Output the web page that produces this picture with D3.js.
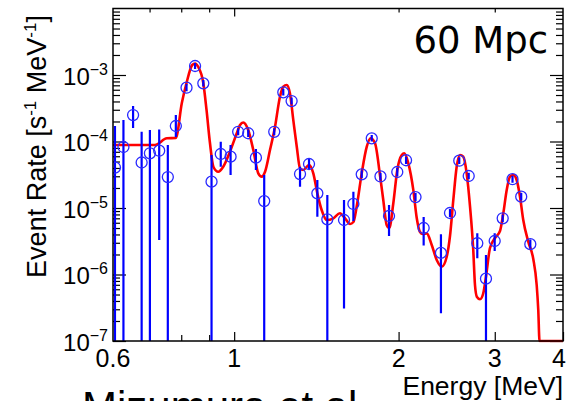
<!DOCTYPE html>
<html><head><meta charset="utf-8">
<script src="https://cdn.jsdelivr.net/npm/d3@7"></script>
<style>body{margin:0;background:#fff}svg{display:block}</style>
</head><body><svg id="c" width="578" height="401"></svg>
<script>
// ---- data (energy in MeV, rate in s^-1 MeV^-1) ----
const pointEnergy = [0.605,0.627,0.653,0.677,0.701,0.729,0.756,0.782,0.818,0.848,0.878,0.909,0.945,0.985,1.017,1.061,1.096,1.135,1.184,1.230,1.274,1.320,1.371,1.420,1.481,1.589,1.653,1.712,1.786,1.853,1.921,1.989,2.064,2.148,2.223,2.391,2.484,2.583,2.688,2.787,2.891,2.999,3.102,3.233,3.354,3.485];
const pointRate = [4.06e-5,8.26e-5,2.50e-4,4.83e-5,6.65e-5,7.27e-5,2.92e-5,1.71e-4,6.44e-4,1.365e-3,7.50e-4,2.49e-5,6.49e-5,5.91e-5,1.40e-4,1.33e-4,5.71e-5,1.27e-5,1.40e-4,5.49e-4,4.06e-4,3.24e-5,4.59e-5,1.66e-5,6.76e-6,6.60e-6,1.15e-5,3.21e-5,1.117e-4,2.98e-5,7.58e-6,3.48e-5,5.22e-5,1.46e-5,5.00e-6,2.11e-6,8.41e-6,5.14e-5,3.03e-5,2.95e-6,8.65e-7,3.19e-6,7.0e-6,2.71e-5,1.48e-5,2.86e-6];
const errLow = [0,0,1.60e-4,0,0,3.30e-6,0,1.17e-4,5.7e-4,1.23e-3,6.7e-4,0,4.18e-5,3.14e-5,1.24e-4,1.17e-4,3.73e-5,0,1.24e-4,4.9e-4,3.6e-4,2.09e-5,3.73e-5,7.40e-6,0,3.08e-7,6.38e-6,2.8e-5,1.0e-4,2.6e-5,3.79e-6,3.0e-5,4.6e-5,1.27e-5,2.73e-6,2.61e-7,7.3e-6,4.6e-5,2.7e-5,1.75e-6,0,2.26e-6,6.1e-6,2.4e-5,1.3e-5,2.45e-6];
const errHigh = [1.71e-4,2.11e-4,3.42e-4,1.40e-4,1.49e-4,1.52e-4,8.86e-5,2.50e-4,7.3e-4,1.52e-3,8.4e-4,6.27e-5,9.93e-5,8.86e-5,1.58e-4,1.51e-4,7.71e-5,3.14e-5,1.58e-4,6.2e-4,4.6e-4,4.18e-5,5.65e-5,2.64e-5,1.57e-5,1.32e-5,1.76e-5,3.7e-5,1.25e-4,3.4e-5,1.11e-5,4.0e-5,5.9e-5,1.68e-5,7.32e-6,4.02e-6,9.7e-6,5.8e-5,3.4e-5,4.17e-6,1.96e-6,4.17e-6,8.0e-6,3.05e-5,1.7e-5,3.35e-6];

const modelEnergy = [0.600,0.716,0.753,0.782,0.802,0.818,0.838,0.848,0.859,0.878,0.890,0.903,0.916,0.935,0.955,0.982,1.011,1.025,1.039,1.061,1.084,1.107,1.123,1.139,1.163,1.188,1.213,1.230,1.248,1.265,1.283,1.302,1.320,1.338,1.371,1.396,1.420,1.446,1.477,1.519,1.562,1.596,1.630,1.653,1.676,1.712,1.749,1.778,1.811,1.849,1.875,1.902,1.923,1.956,1.989,2.027,2.049,2.084,2.128,2.159,2.189,2.214,2.252,2.300,2.349,2.399,2.450,2.484,2.519,2.555,2.591,2.627,2.665,2.703,2.740,2.760,2.783,2.819,2.858,2.891,2.940,3.003,3.067,3.110,3.155,3.199,3.244,3.290,3.337,3.383,3.455,3.529,3.580,3.604,3.623,4.0];
const modelRate = [8.86e-5,8.86e-5,1.117e-4,1.129e-4,3.79e-4,7.58e-4,1.414e-3,1.489e-3,1.333e-3,7.58e-4,2.98e-4,9.49e-5,4.18e-5,3.51e-5,4.18e-5,6.95e-5,1.33e-4,1.77e-4,1.93e-4,1.49e-4,7.45e-5,3.32e-5,2.96e-5,3.51e-5,7.45e-5,1.67e-4,4.72e-4,6.67e-4,7.07e-4,5.31e-4,2.11e-4,8.35e-5,3.95e-5,3.73e-5,4.43e-5,3.32e-5,1.66e-5,9.33e-6,6.60e-6,7.00e-6,8.32e-6,7.00e-6,5.75e-6,6.16e-6,1.045e-5,3.32e-5,8.35e-5,1.117e-4,9.39e-5,3.13e-5,1.32e-5,5.55e-6,5.00e-6,1.177e-5,3.73e-5,6.27e-5,6.65e-5,4.70e-5,1.87e-5,7.07e-6,4.36e-6,4.06e-6,4.16e-6,2.78e-6,1.65e-6,1.31e-6,1.85e-6,3.79e-6,1.32e-5,4.18e-5,6.27e-5,5.91e-5,3.32e-5,1.045e-5,2.34e-6,6.95e-7,4.59e-7,4.24e-7,5.22e-7,9.27e-7,2.50e-6,3.54e-6,4.51e-6,8.32e-6,1.87e-5,2.96e-5,3.13e-5,2.64e-5,1.48e-5,6.60e-6,3.11e-6,1.71e-6,6.95e-7,2.92e-7,1.0e-7,1.0e-7];

const xMajorTicks = [1,2,3,4];
const xMinorTicks = [0.7,0.8,0.9];
const xTickLabels = ["0.6","1","2","3","4"];
const xLabelValues = [0.6,1,2,3,4];
const yDecadeExponents = [-7,-6,-5,-4,-3];
const yMinorMultipliers = [2,3,4,5,6,7,8,9];

const svg = d3.select("#c");
const L = 113, R = 563, T = 8.5, B = 341;
const x = d3.scaleLog().domain([0.6,4]).range([L,R]);
const y = d3.scaleLog().domain([1e-7,1e-2]).range([B,T]);
const yMin = 1e-7;

svg.append("rect").attr("width",578).attr("height",401).attr("fill","#fff");
svg.append("defs").append("clipPath").attr("id","clip")
  .append("rect").attr("x",L).attr("y",T).attr("width",R-L).attr("height",B-T+1.5);

// ---- axes ticks ----
const yMajor = yDecadeExponents.map(e=>Math.pow(10,e));
const yMinor = [];
yDecadeExponents.forEach(e=>yMinorMultipliers.forEach(m=>yMinor.push(m*Math.pow(10,e))));

function noDomain(g){g.select(".domain").remove();g.selectAll("line").attr("stroke","#000").attr("stroke-width",1.2);}

svg.append("g").attr("transform",`translate(${L},0)`)
  .call(d3.axisLeft(y).tickValues(yMajor).tickSize(-13).tickFormat("")).call(noDomain);
svg.append("g").attr("transform",`translate(${L},0)`)
  .call(d3.axisLeft(y).tickValues(yMinor).tickSize(-7).tickFormat("")).call(noDomain);
svg.append("g").attr("transform",`translate(${R},0)`)
  .call(d3.axisRight(y).tickValues(yMajor).tickSize(-13).tickFormat("")).call(noDomain);
svg.append("g").attr("transform",`translate(${R},0)`)
  .call(d3.axisRight(y).tickValues(yMinor).tickSize(-7).tickFormat("")).call(noDomain);

svg.append("g").attr("transform",`translate(0,${B})`)
  .call(d3.axisBottom(x).tickValues(xMajorTicks).tickSize(-9).tickFormat("")).call(noDomain);
svg.append("g").attr("transform",`translate(0,${B})`)
  .call(d3.axisBottom(x).tickValues(xMinorTicks).tickSize(-6).tickFormat("")).call(noDomain);
svg.append("g").attr("transform",`translate(0,${T})`)
  .call(d3.axisTop(x).tickValues([1]).tickSize(-8).tickFormat("")).call(noDomain);
svg.append("g").attr("transform",`translate(0,${T})`)
  .call(d3.axisTop(x).tickValues([0.7,0.8,0.9,2,3]).tickSize(-4).tickFormat("")).call(noDomain);

// ---- plot content ----
const plot = svg.append("g").attr("clip-path","url(#clip)");
const model = modelEnergy.map((e,i)=>({e, r: modelRate[i]}));
plot.append("path").datum(model)
  .attr("fill","none").attr("stroke","#ff0000").attr("stroke-width",2.6)
  .attr("stroke-linejoin","round")
  .attr("d", d3.line().x(d=>x(d.e)).y(d=>y(Math.max(d.r,yMin))).curve(d3.curveMonotoneX));

const pts = pointEnergy.map((e,i)=>({e, r: pointRate[i], lo: errLow[i], hi: errHigh[i]}));
plot.selectAll("line.err").data(pts).join("line").attr("class","err")
  .attr("x1",d=>x(d.e)).attr("x2",d=>x(d.e))
  .attr("y1",d=>y(Math.max(d.lo,yMin))).attr("y2",d=>y(d.hi))
  .attr("stroke","#0000ff").attr("stroke-width",2.2);
plot.selectAll("circle").data(pts).join("circle")
  .attr("cx",d=>x(d.e)).attr("cy",d=>y(d.r)).attr("r",5.5)
  .attr("fill","none").attr("stroke","#2a2aff").attr("stroke-width",1.3);

// frame
svg.append("rect").attr("x",L).attr("y",T).attr("width",R-L).attr("height",B-T)
  .attr("fill","none").attr("stroke","#000").attr("stroke-width",1.5);

// ---- labels ----
const font = "'Liberation Sans', Arial, Helvetica, sans-serif";
svg.selectAll("text.xl").data(xLabelValues).join("text").attr("class","xl")
  .attr("x",d=>Math.min(x(d),559)).attr("y",B+26).attr("text-anchor","middle")
  .attr("font-family",font).attr("font-size",25).attr("fill","#000")
  .text((d,i)=>xTickLabels[i]);

yDecadeExponents.forEach(e=>{
  const t = svg.append("text").attr("x",108).attr("y",y(Math.pow(10,e))+9.5)
    .attr("text-anchor","end").attr("font-family",font).attr("font-size",24).attr("fill","#000");
  t.append("tspan").text("10");
  t.append("tspan").attr("dy",-10).attr("font-size",16).text("\u2212"+Math.abs(e));
});

svg.append("text").attr("x",R).attr("y",395).attr("text-anchor","end")
  .attr("font-family",font).attr("font-size",26.5).attr("fill","#000").text("Energy [MeV]");

const yt = svg.append("text").attr("transform","translate(46,15) rotate(-90)")
  .attr("text-anchor","end").attr("font-family",font).attr("font-size",27).attr("fill","#000");
yt.append("tspan").text("Event Rate [s");
yt.append("tspan").attr("dy",-10).attr("font-size",17).text("-1");
yt.append("tspan").attr("dy",10).text(" MeV");
yt.append("tspan").attr("dy",-10).attr("font-size",17).text("-1");
yt.append("tspan").attr("dy",10).text("]");

svg.append("text").attr("x",548).attr("y",53).attr("text-anchor","end")
  .attr("font-family","'DejaVu Sans', sans-serif").attr("font-size",37).attr("fill","#000").text("60 Mpc");

// reference shows this credit cut off by the bottom edge
svg.append("text").attr("x",82).attr("y",421)
  .attr("font-family",font).attr("font-size",42).attr("fill","#000").text("Mizumura et al.");
</script></body></html>
